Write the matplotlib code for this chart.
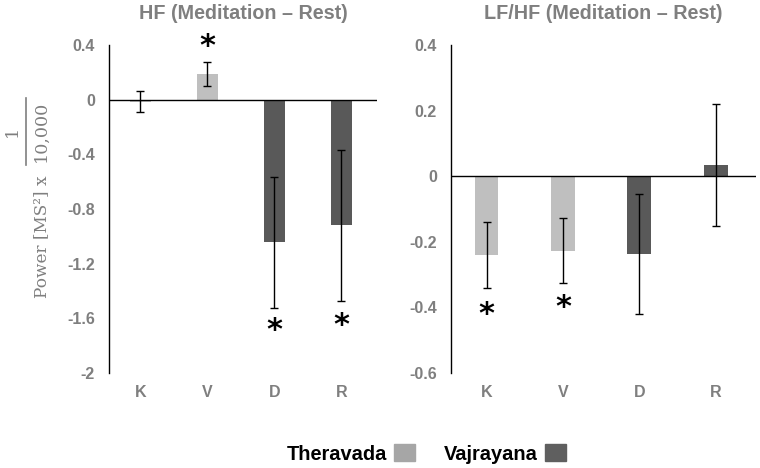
# HF and LF/HF change (meditation minus rest) per group, two panels
import matplotlib.pyplot as plt
from matplotlib.patches import Patch
from matplotlib.lines import Line2D

plt.rcParams['font.family'] = ['Liberation Sans', 'DejaVu Sans']

groups = ['K', 'V', 'D', 'R']
tradition = ['Theravada', 'Theravada', 'Vajrayana', 'Vajrayana']

hf_mean = [-0.015, 0.19, -1.045, -0.92]
hf_err = [0.075, 0.087, 0.48, 0.55]
hf_star = [None, 0.385, -1.69, -1.65]

lfhf_mean = [-0.24, -0.227, -0.236, 0.035]
lfhf_err = [0.10, 0.10, 0.183, 0.186]
lfhf_star = [-0.422, -0.40, None, None]

bar_colors = {'Theravada': '#bfbfbf', 'Vajrayana': '#595959'}
key_colors = {'Theravada': '#a6a6a6', 'Vajrayana': '#5f5f5f'}
grey = '#7f7f7f'

W, H = 760, 468
fig = plt.figure(figsize=(W / 100, H / 100), dpi=100)
ax1 = fig.add_axes([0.1434, 0.203, 0.3526, 0.701])
ax2 = fig.add_axes([0.593, 0.203, 0.402, 0.701])


def panel(ax, means, errs, stars, title, ylim, yticks):
    x = range(len(groups))
    cols = [bar_colors[t] for t in tradition]
    ax.bar(x, means, width=0.31, color=cols, zorder=2)
    ax.errorbar(x, means, yerr=errs, fmt='none', ecolor='black',
                elinewidth=1, capsize=3, capthick=1, zorder=4)
    ax.axhline(0, color='black', lw=1, zorder=3)
    for i, s in enumerate(stars):
        if s is not None:
            ax.text(i, s, '*', ha='center', va='center', fontsize=22,
                    fontweight='bold', family='DejaVu Sans')
    ax.set_xlim(-0.47, 3.53)
    ax.set_ylim(*ylim)
    ax.set_yticks(yticks)
    ax.set_yticklabels(['0' if v == 0 else f'{v:g}' for v in yticks])
    ax.set_xticks(list(x))
    ax.set_xticklabels(groups)
    for side in ['top', 'right', 'bottom']:
        ax.spines[side].set_visible(False)
    ax.spines['left'].set_linewidth(1)
    ax.tick_params(length=0, labelsize=11.5, labelcolor=grey)
    ax.tick_params(axis='x', pad=9)
    ax.tick_params(axis='y', pad=10)
    for lab in ax.get_xticklabels() + ax.get_yticklabels():
        lab.set_fontweight('bold')
    ax.set_title(title, fontsize=14.2, fontweight='bold', color=grey, pad=19)


panel(ax1, hf_mean, hf_err, hf_star, 'HF (Meditation \u2013 Rest)',
      (-2, 0.4), [-2, -1.6, -1.2, -0.8, -0.4, 0, 0.4])
panel(ax2, lfhf_mean, lfhf_err, lfhf_star, 'LF/HF (Meditation \u2013 Rest)',
      (-0.6, 0.4), [-0.6, -0.4, -0.2, 0, 0.2, 0.4])

# y label: "Power [MS²] x" followed by a stacked fraction 1 / 10,000
lab = dict(family='DejaVu Serif', color=grey, rotation=90,
           rotation_mode='anchor', va='baseline', transform=fig.transFigure)
fig.text(46 / W, 1 - 298 / H, 'Power [MS\u00b2] x', ha='left', fontsize=12.2, **lab)
fig.text(46 / W, 1 - 131 / H, '10,000', ha='center', fontsize=12.6, **lab)
fig.text(17 / W, 1 - 131 / H, '1', ha='center', fontsize=12.6, **lab)
fig.add_artist(Line2D([26 / W, 26 / W], [1 - 98 / H, 1 - 165 / H],
                      transform=fig.transFigure, color=grey, lw=1.2))

handles = [Patch(color=key_colors[t], label=t) for t in ['Theravada', 'Vajrayana']]
fig.legend(handles=handles, loc='center', bbox_to_anchor=(0.561, 0.03), ncol=2,
           frameon=False, markerfirst=False, handlelength=1.05, handleheight=0.95,
           columnspacing=1.45, handletextpad=0.36,
           prop={'weight': 'bold', 'size': 14.4})

fig.savefig('out.png', dpi=100)
